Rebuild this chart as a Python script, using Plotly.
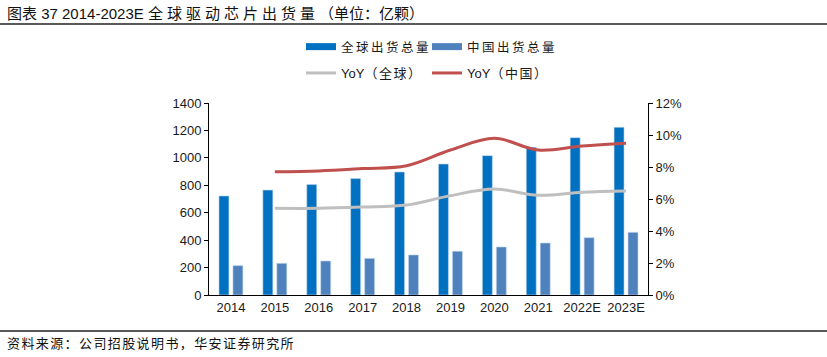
import plotly.graph_objects as go

years = ["2014", "2015", "2016", "2017", "2018", "2019", "2020", "2021", "2022E", "2023E"]
global_ship = [722, 765, 805, 849, 897, 955, 1016, 1077, 1147, 1223]
china_ship = [214, 231, 248, 267, 292, 319, 350, 379, 418, 457]
yoy_years = years[1:]
yoy_global = [5.42, 5.42, 5.5, 5.62, 6.21, 6.62, 6.23, 6.42, 6.5]
yoy_china = [7.7, 7.75, 7.9, 8.08, 9.06, 9.79, 9.06, 9.31, 9.48]

C_GLOBAL = "#0070C0"
C_CHINA = "#4F81BD"
C_YG = "#BFBFBF"
C_YC = "#C0504D"

FONT = "Liberation Sans, Arial, Noto Sans CJK SC, sans-serif"


def sp(t, s):
    return '<span style="letter-spacing:%spx">%s</span>' % (s, t)


fig = go.Figure()
fig.add_trace(go.Bar(x=years, y=global_ship, name="全球出货总量", marker=dict(color=C_GLOBAL, line=dict(color="#BDD7EE", width=0.6)),
                     width=0.227, offset=-0.273, showlegend=False))
fig.add_trace(go.Bar(x=years, y=china_ship, name="中国出货总量", marker=dict(color=C_CHINA, line=dict(color="#BDD7EE", width=0.6)),
                     width=0.227, offset=0.045, showlegend=False))
fig.add_trace(go.Scatter(x=yoy_years, y=yoy_global, name="YoY（全球）", mode="lines", yaxis="y2",
                         line=dict(color=C_YG, width=3, shape="spline", smoothing=1.0), showlegend=False))
fig.add_trace(go.Scatter(x=yoy_years, y=yoy_china, name="YoY（中国）", mode="lines", yaxis="y2",
                         line=dict(color=C_YC, width=3, shape="spline", smoothing=1.0), showlegend=False))

# legend-only entries, one legend box each
fig.add_trace(go.Scatter(x=[None], y=[None], mode="lines", name=sp("全球出货总量", 2.5), line=dict(color=C_GLOBAL, width=7), legend="legend"))
fig.add_trace(go.Scatter(x=[None], y=[None], mode="lines", name=sp("中国出货总量", 2.5), line=dict(color=C_CHINA, width=7), legend="legend2"))
fig.add_trace(go.Scatter(x=[None], y=[None], mode="lines", name="YoY" + sp("（全球）", 1.5), line=dict(color=C_YG, width=3), legend="legend3"))
fig.add_trace(go.Scatter(x=[None], y=[None], mode="lines", name="YoY" + sp("（中国）", 1.5), line=dict(color=C_YC, width=3), legend="legend4"))

W, H = 827, 357
L, R, T, B = 209, 827 - 648, 103, 357 - 295
pw, ph = W - L - R, H - T - B


def px(x):
    return (x - L) / pw


def py(y):
    return (H - B - y) / ph


def leg(x, y, size):
    return dict(orientation="h", x=px(x), y=py(y), xanchor="left", yanchor="middle",
                font=dict(size=size), bgcolor="rgba(0,0,0,0)", itemwidth=30)


fig.update_layout(
    width=W, height=H,
    margin=dict(l=L, r=R, t=T, b=B),
    paper_bgcolor="white", plot_bgcolor="white",
    font=dict(family=FONT, size=13, color="#1a1a1a"),
    barmode="overlay",
    xaxis=dict(type="category", showline=True, linecolor="black", linewidth=1, ticks="",
               showgrid=False, tickfont=dict(size=13), fixedrange=True),
    yaxis=dict(range=[0, 1400], dtick=200, showline=True, linecolor="black", linewidth=1,
               ticks="outside", ticklen=4, tickcolor="black", showgrid=False, zeroline=False,
               tickfont=dict(size=13)),
    yaxis2=dict(range=[0, 12], dtick=2, overlaying="y", side="right", showline=True, linecolor="black",
                linewidth=1, ticks="outside", ticklen=4, tickcolor="black", showgrid=False, zeroline=False,
                ticksuffix="%", tickfont=dict(size=13)),
    legend=leg(301, 47, 12.5),
    legend2=leg(427, 47, 12.5),
    legend3=leg(301, 73, 13),
    legend4=leg(427, 73, 13),
    showlegend=True,
    shapes=[
        dict(type="line", xref="paper", yref="paper", x0=px(0), x1=px(827), y0=py(24), y1=py(24),
             line=dict(color="#222222", width=1.5)),
        dict(type="line", xref="paper", yref="paper", x0=px(0), x1=px(827), y0=py(331), y1=py(331),
             line=dict(color="#222222", width=1.5)),
    ],
    annotations=[
        dict(text="图表 37 2014-2023E " + sp("全球驱动芯片出货量", 4) + "（单位：亿颗）",
             xref="paper", yref="paper",
             x=px(5), y=py(13), xanchor="left", yanchor="middle", showarrow=False,
             font=dict(size=15, color="#111111")),
        dict(text=sp("资料来源：公司招股说明书，华安证券研究所", 1.4), xref="paper", yref="paper",
             x=px(5), y=py(343), xanchor="left", yanchor="middle", showarrow=False,
             font=dict(size=13, color="#111111")),
    ],
)

fig.write_html("out.html", config={"displayModeBar": False},
               post_script="document.body.style.margin='0px';")
